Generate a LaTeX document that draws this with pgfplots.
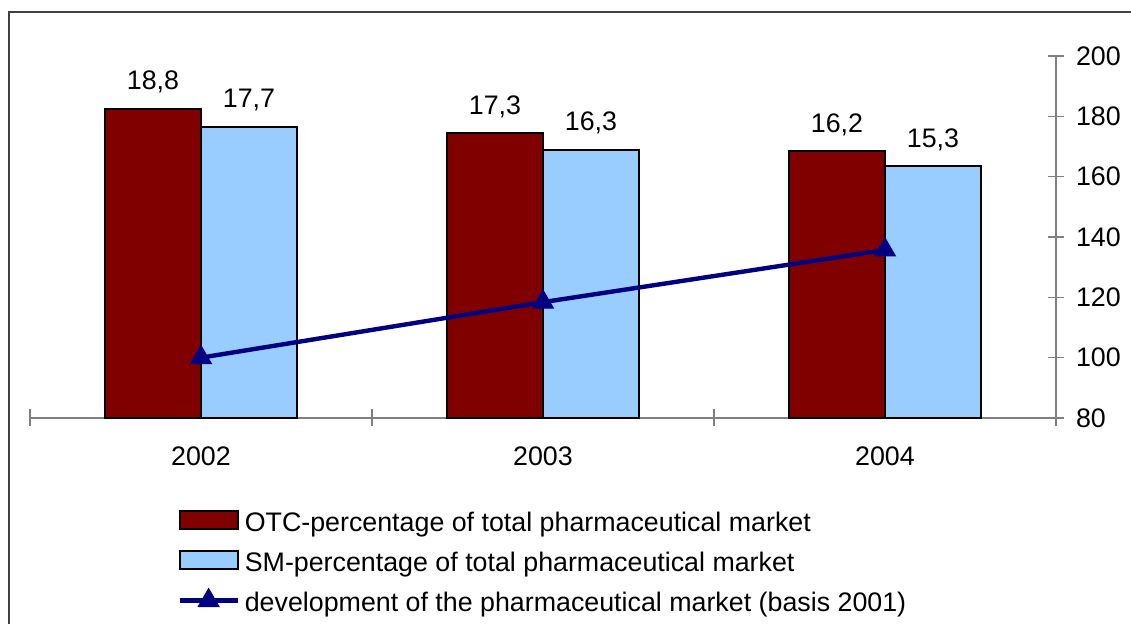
\documentclass[border=0pt]{standalone}
\usepackage{fontspec}
\setmainfont{Liberation Sans}
\usepackage{pgfplots}
\pgfplotsset{compat=1.18}
\pgfplotsset{/pgf/number format/assume math mode=true}

\definecolor{otcred}{HTML}{800000}
\definecolor{smblue}{HTML}{99CCFF}
\definecolor{devnavy}{HTML}{000080}
\definecolor{axisgrey}{HTML}{7F7F7F}
\definecolor{framegrey}{HTML}{404040}

\newcommand{\chartfont}{\fontsize{13.4}{15}\selectfont}

% legend symbols
\pgfplotsset{
  boxlegend/.style={legend image code/.code={\draw[##1, draw=black, line width=1pt] (0pt,-2pt) rectangle (29pt,7pt);}},
  linelegend/.style={legend image code/.code={\draw[mark repeat=2, mark phase=2, ##1] plot coordinates {(0pt,2.5pt) (14.5pt,2.5pt) (29pt,2.5pt)};}},
  valuelabels/.style={
    nodes near coords={\pgfmathprintnumber[fixed,fixed zerofill,precision=1,use comma]{\pgfplotspointmeta}},
    every node near coord/.append style={black, font=\chartfont, xshift=#1, yshift=4pt}},
}

\begin{document}
\begin{tikzpicture}[font=\chartfont]
  \path[use as bounding box] (0,0) rectangle (565.5pt,312pt);
  % chart area frame (left and top edges)
  \draw[line width=1pt, framegrey] (4.5pt,0pt) -- (4.5pt,306pt) -- (565.5pt,306pt);

  % bars: share of the total pharmaceutical market
  \begin{axis}[
    at={(15pt,103pt)}, anchor=south west,
    scale only axis, width=513pt, height=181pt,
    xmin=-0.5, xmax=2.5, ymin=0, ymax=22,
    clip=false,
    axis x line*=bottom, axis y line=none,
    x axis line style={-, axisgrey, line width=0.8pt},
    xtick={0,1,2}, xticklabels={2002,2003,2004},
    major tick length=0pt,
    minor xtick={-0.5,0.5,1.5,2.5},
    minor tick length=8.5pt, tick align=center,
    minor x tick style={axisgrey, line width=0.7pt},
    xticklabel style={yshift=-11pt},
  ]
    \addplot[ybar, bar width=48pt, bar shift=-24pt, fill=otcred, draw=black, line width=1pt,
      valuelabels=-24pt]
      coordinates {(0,18.8) (1,17.3) (2,16.2)};
    \addplot[ybar, bar width=48pt, bar shift=24pt, fill=smblue, draw=black, line width=1pt,
      valuelabels=24pt]
      coordinates {(0,17.7) (1,16.3) (2,15.3)};
  \end{axis}

  % line: market development index (2001 = 100)
  \begin{axis}[
    at={(15pt,103pt)}, anchor=south west,
    scale only axis, width=513pt, height=181pt,
    xmin=-0.5, xmax=2.5, ymin=80, ymax=200,
    clip=false,
    axis x line=none, axis y line*=right,
    y axis line style={-, axisgrey, line width=0.8pt},
    ytick={80,100,...,200},
    major tick length=8pt, tick align=center,
    major y tick style={axisgrey, line width=0.7pt},
    yticklabel style={xshift=2.5pt},
    legend style={at={(0.1433,-0.2514)}, anchor=north west, draw=none, fill=none,
      inner sep=0pt, row sep=3.8pt,
      nodes={inner xsep=0pt, inner ysep=2pt, text height=9pt, text depth=3pt},
      /tikz/every odd column/.append style={column sep=2.5pt}},
    legend cell align=left,
  ]
    \addlegendimage{boxlegend, fill=otcred}
    \addlegendentry{OTC-percentage of total pharmaceutical market}
    \addlegendimage{boxlegend, fill=smblue}
    \addlegendentry{SM-percentage of total pharmaceutical market}
    \addplot[devnavy, line width=2.2pt, mark=triangle*, mark size=6pt,
      mark options={solid, line width=0.5pt}, linelegend]
      coordinates {(0,100) (1,118.4) (2,135.7)};
    \addlegendentry{development of the pharmaceutical market (basis 2001)}
  \end{axis}
\end{tikzpicture}
\end{document}
